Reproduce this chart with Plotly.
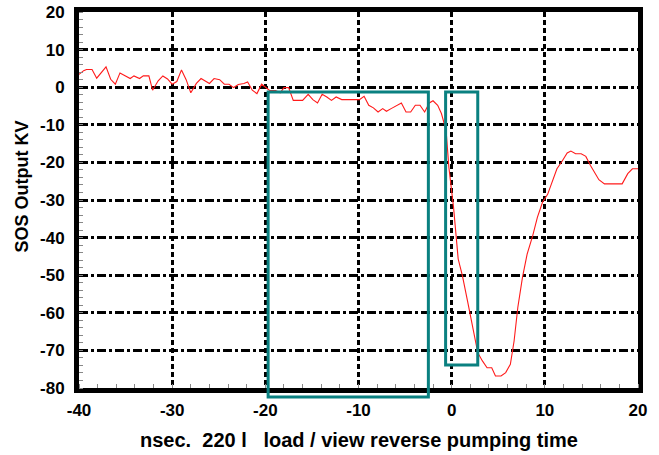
import plotly.graph_objects as go

# ---- data ----
time_ns = [-40.0, -39.5, -39.2, -38.6, -38.1, -37.1, -36.6, -36.1, -35.6, -35.1,
           -34.5, -34.1, -33.5, -33.1, -32.5, -32.1, -31.5, -31.0, -30.5, -30.0,
           -29.5, -29.0, -28.5, -28.0, -27.4, -26.9, -26.5, -26.0, -25.5, -24.9,
           -24.4, -23.9, -23.4, -22.9, -22.3, -21.9, -21.4, -20.9, -20.4, -20.0,
           -19.5, -18.9, -18.4, -18.0, -17.5, -17.0, -16.4, -16.0, -15.4, -14.9,
           -14.4, -13.9, -13.4, -12.9, -12.4, -11.8, -11.3, -10.9, -10.3, -9.9,
           -9.4, -8.9, -8.4, -7.9, -7.4, -7.0, -6.5, -5.9, -5.4, -4.9,
           -4.4, -3.9, -3.4, -2.9, -2.4, -2.0, -1.5, -1.1, -0.6, -0.3,
           0.2, 0.7, 1.15, 1.7, 2.2, 2.8, 3.3, 3.8, 4.3, 4.7,
           5.3, 5.8, 6.3, 6.7, 7.1, 7.6, 8.1, 8.7, 9.2, 9.75,
           10.3, 10.8, 11.3, 11.8, 12.4, 12.8, 13.3, 13.9, 14.4, 14.9,
           15.4, 15.8, 16.4, 16.9, 17.5, 18.3, 18.9, 19.4, 20.0]
output_kv = [3.4, 4.4, 4.7, 4.7, 2.4, 5.4, 2.1, 0.8, 3.8, 3.1,
             2.3, 3.0, 2.3, 3.0, 3.0, -0.8, 1.7, 3.0, 2.2, 0.8,
             1.5, 4.6, 2.0, -1.5, 1.0, 2.3, 1.7, 1.0, 2.3, 2.0,
             0.8, 0.8, -0.1, 0.7, 1.0, 1.4, -0.8, -1.7, 0.8, 0.0,
             -0.9, -0.9, -1.5, -0.1, -0.1, -3.5, -3.5, -3.5, -1.9, -3.3,
             -4.2, -1.9, -2.6, -3.5, -2.6, -3.3, -3.3, -3.3, -3.3, -3.3,
             -2.4, -4.8, -5.5, -6.6, -5.7, -6.4, -5.7, -5.0, -4.2, -6.6,
             -6.6, -4.8, -4.8, -6.6, -4.2, -3.6, -4.8, -7.0, -11.5, -21.3,
             -31.9, -45.7, -50.1, -56.8, -63.0, -70.6, -72.8, -74.6, -74.6, -76.8,
             -76.8, -75.9, -73.7, -67.5, -58.6, -50.6, -44.4, -39.5, -34.6, -30.6,
             -28.5, -25.3, -21.7, -19.9, -17.5, -17.0, -17.7, -17.7, -18.4, -20.8,
             -23.0, -24.6, -25.7, -25.7, -25.7, -25.7, -23.0, -21.7, -21.7]

x_range = [-40, 20]
y_range = [-80, 20]
x_ticks = [-40, -30, -20, -10, 0, 10, 20]
x_tick_labels = ["-40", "-30", "-20", "-10", "0", "10", "20"]
y_ticks = [-80, -70, -60, -50, -40, -30, -20, -10, 0, 10, 20]
y_tick_labels = ["-80", "-70", "-60", "-50", "-40", "-30", "-20", "-10", "0", "10", "20"]

# highlight boxes (data units)
box1_x = [-19.7, -2.5]
box1_y = [-82.4, -1.3]
box2_x = [-0.65, 2.8]
box2_y = [-73.9, -1.3]

x_title = "nsec.  220 l   load / view reverse pumping time"
y_title = "SOS Output KV"

FONT = "Liberation Sans, Arial, sans-serif"
TEAL = "#0a8080"


def yfrac(v):
    return (v - y_range[0]) / (y_range[1] - y_range[0])


fig = go.Figure()
fig.add_trace(go.Scatter(x=time_ns, y=output_kv, mode="lines",
                         line=dict(color="#ff1a1a", width=1.1),
                         showlegend=False, hoverinfo="skip"))

fig.update_layout(
    width=659, height=455,
    margin=dict(l=79, r=21, t=12, b=67),
    paper_bgcolor="white", plot_bgcolor="white",
    font=dict(family=FONT, size=16, color="black", weight="bold"),
    showlegend=False,
    xaxis=dict(range=x_range, tickvals=x_ticks, ticktext=x_tick_labels,
               showgrid=True, automargin=False,
               gridcolor="black", gridwidth=2.5, griddash="5px,3px",
               zeroline=False, showline=True, linecolor="black", linewidth=5,
               mirror=True, ticks="", ticklabelstandoff=3,
               tickfont=dict(family=FONT, size=17, color="black", weight="bold"),
               minor=dict(dtick=2, ticks="inside", ticklen=4, tickcolor="#888888",
                          tickwidth=1, showgrid=False)),
    yaxis=dict(range=y_range, tickvals=y_ticks, ticktext=y_tick_labels,
               showgrid=True, automargin=False,
               gridcolor="black", gridwidth=2.5, griddash="9px,3px,3px,3px",
               zeroline=False, showline=True, linecolor="black", linewidth=5,
               mirror=True, ticks="", ticklabelstandoff=6,
               tickfont=dict(family=FONT, size=17, color="black", weight="bold"),
               minor=dict(dtick=2, ticks="inside", ticklen=4, tickcolor="#888888",
                          tickwidth=1, showgrid=False)),
)

fig.add_shape(type="rect", xref="x", yref="paper",
              x0=box1_x[0], x1=box1_x[1], y0=yfrac(box1_y[0]), y1=yfrac(box1_y[1]),
              line=dict(color=TEAL, width=3), fillcolor="rgba(0,0,0,0)", layer="above")
fig.add_shape(type="rect", xref="x", yref="y",
              x0=box2_x[0], x1=box2_x[1], y0=box2_y[0], y1=box2_y[1],
              line=dict(color=TEAL, width=3), fillcolor="rgba(0,0,0,0)", layer="above")

fig.add_annotation(text=y_title, xref="paper", yref="paper", x=0, y=0.536,
                   xanchor="center", yanchor="middle", xshift=-57, textangle=-90,
                   showarrow=False,
                   font=dict(family=FONT, size=18, color="black", weight="bold"))

fig.add_annotation(text=x_title, xref="paper", yref="paper", x=0.5, y=0,
                   xanchor="center", yanchor="middle", yshift=-52,
                   showarrow=False,
                   font=dict(family=FONT, size=20, color="black", weight="bold"))

fig.write_html("out.html")
